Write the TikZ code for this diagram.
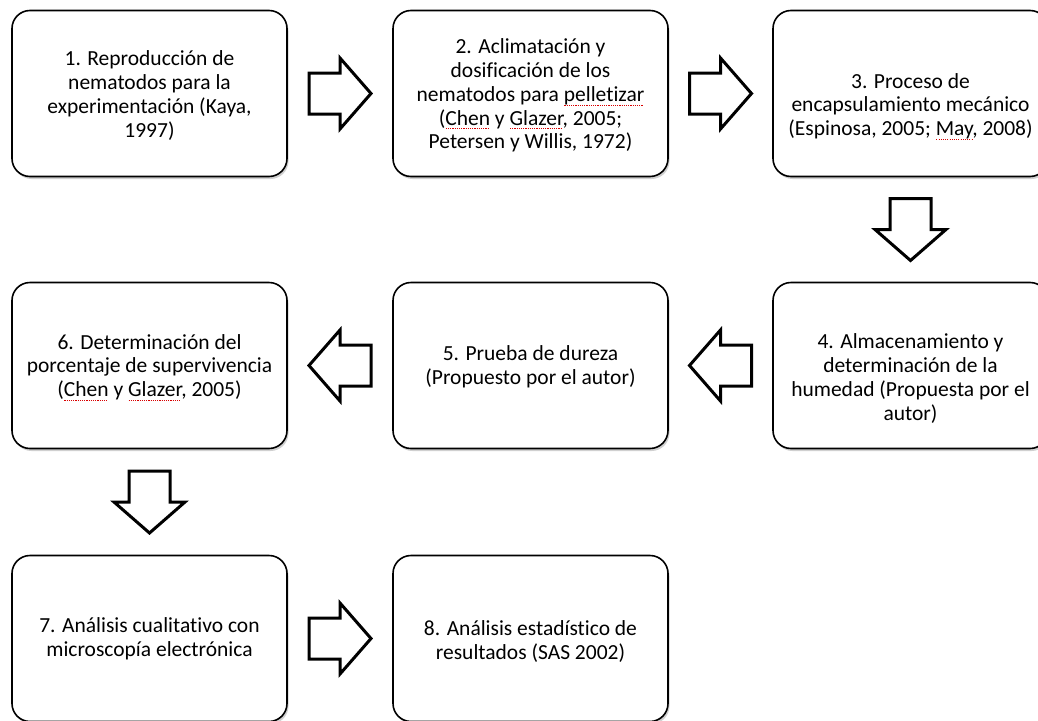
\documentclass[tikz,border=0pt]{standalone}
\usepackage{fontspec}
\setmainfont{Carlito}[Ligatures={NoCommon}]
\usetikzlibrary{calc,shadows}
\newcommand\squig[1]{\setbox0\hbox{#1}\rlap{\color{red!85!black}\raisebox{-4pt}{\leaders\hbox to 2.2pt{\hss\rule{1.1pt}{0.7pt}\hss}\hskip\wd0}}#1}
\tikzset{
  box/.style={draw=black, line width=1.6pt, rounded corners=18pt, fill=white,
    minimum width=275pt, minimum height=166pt, inner sep=0pt,
    drop shadow={shadow xshift=1.5pt, shadow yshift=-2.5pt, opacity=0.3, fill=black!60}},
  txt/.style={align=center, font=\fontsize{21.5}{23.8}\selectfont, inner sep=0pt},
  fatarrow/.pic={\draw[line width=3pt, line join=miter, fill=white]
     (-31,-20.5) -- (0,-20.5) -- (0,-35.5) -- (31,0) -- (0,35.5) -- (0,20.5) -- (-31,20.5) -- cycle;}
}
\begin{document}
\begin{tikzpicture}[x=1pt,y=-1pt]
\useasboundingbox (0,0) rectangle (1038,720);
\fill[white] (0,0) rectangle (1038,720);
% boxes
\node[box] (b1) at (149.5,93.5) {};
\node[box] (b2) at (530.5,93.5) {};
\node[box] (b3) at (910.5,93.5) {};
\node[box] (b4) at (910.5,365.5) {};
\node[box] (b5) at (530.5,365.5) {};
\node[box] (b6) at (149.5,365.5) {};
\node[box] (b7) at (149.5,638.5) {};
\node[box] (b8) at (530.5,638.5) {};
% texts
\node[txt] (t1) at ($(b1.center)+(0,2)$) {1. Reproducción de\\nematodos para la\\experimentación (Kaya,\\1997)};
\node[txt] (t2) at ($(b2.center)+(0,2)$) {2. Aclimatación y\\dosificación de los\\nematodos para \squig{pelletizar}\\(\squig{Chen} y \squig{Glazer}, 2005;\\Petersen y Willis, 1972)};
\node[txt] (t3) at ($(b3.center)+(0,13)$) {3. Proceso de\\encapsulamiento mecánico\\(Espinosa, 2005; \squig{May}, 2008)};
\node[txt] (t4) at ($(b4.center)+(0,13)$) {4. Almacenamiento y\\determinación de la\\humedad (Propuesta por el\\autor)};
\node[txt] (t5) at ($(b5.center)+(0,1)$) {5. Prueba de dureza\\(Propuesto por el autor)};
\node[txt] (t6) at ($(b6.center)+(0,2)$) {6. Determinación del\\porcentaje de supervivencia\\(\squig{Chen} y \squig{Glazer}, 2005)};
\node[txt] (t7) at ($(b7.center)+(0,0)$) {7. Análisis cualitativo con\\microscopía electrónica};
\node[txt] (t8) at ($(b8.center)+(0,3)$) {8. Análisis estadístico de\\resultados (SAS 2002)};
% block arrows
\pic at ($(b1.east)!0.5!(b2.west)$) {fatarrow};
\pic at ($(b2.east)!0.5!(b3.west)$) {fatarrow};
\pic[rotate=-90] at ($(b3.south)!0.5!(b4.north)$) {fatarrow};
\pic[rotate=180] at ($(b4.west)!0.5!(b5.east)$) {fatarrow};
\pic[rotate=180] at ($(b5.west)!0.5!(b6.east)$) {fatarrow};
\pic[rotate=-90] at ($(b6.south)!0.5!(b7.north)$) {fatarrow};
\pic at ($(b7.east)!0.5!(b8.west)$) {fatarrow};
\end{tikzpicture}
\end{document}
